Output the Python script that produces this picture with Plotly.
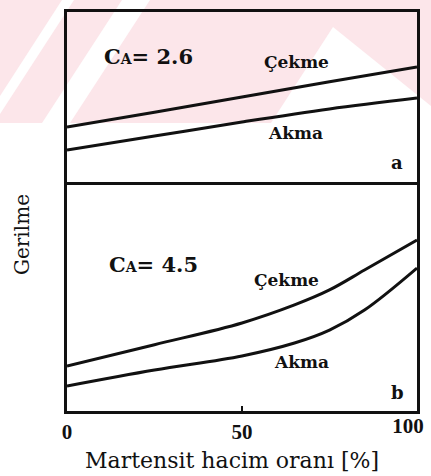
import plotly.graph_objects as go
from plotly.subplots import make_subplots

# Martensite volume fraction (%) and stress curves for the two panels
x_a = [0, 25, 50, 75, 100]
cekme_a = [3.24, 4.10, 5.00, 5.90, 6.76]
akma_a = [1.88, 2.70, 3.53, 4.30, 4.94]

x_b_cekme = [0, 25, 50, 65, 75, 85, 100]
cekme_b = [2.65, 3.90, 5.18, 6.24, 7.12, 8.29, 10.06]
x_b_akma = [0, 25, 50, 65, 75, 85, 100]
akma_b = [1.47, 2.41, 3.24, 4.00, 4.76, 5.94, 8.41]

x_ticks = [0, 50]
x_end_tick = [100]

W, H = 431, 476
ML, MR, MT, MB = 67, 14, 12, 65
PW, PH = W - ML - MR, H - MT - MB

def px(xp):
    return (xp - ML) / PW

def py(yp):
    return (H - MB - yp) / PH

fig = make_subplots(rows=2, cols=1, shared_xaxes=True,
                    vertical_spacing=0, row_heights=[170, 229])

line_style = dict(color="#111111", width=3)
fig.add_trace(go.Scatter(x=x_a, y=cekme_a, mode="lines", line=line_style,
                         line_shape="spline", showlegend=False), row=1, col=1)
fig.add_trace(go.Scatter(x=x_a, y=akma_a, mode="lines", line=line_style,
                         line_shape="spline", showlegend=False), row=1, col=1)
fig.add_trace(go.Scatter(x=x_b_cekme, y=cekme_b, mode="lines", line=line_style,
                         line_shape="spline", showlegend=False), row=2, col=1)
fig.add_trace(go.Scatter(x=x_b_akma, y=akma_b, mode="lines", line=line_style,
                         line_shape="spline", showlegend=False), row=2, col=1)

tick_font = dict(family="Liberation Serif", size=21, color="#111111", weight="bold")
axis_common = dict(showline=True, linecolor="#111111", linewidth=3,
                   showgrid=False, zeroline=False, automargin=False)
# upper x axis draws both the top edge and the divider; lower x axis only the bottom edge
fig.update_xaxes(range=[0, 100], showticklabels=False, ticks="", mirror=True,
                 **axis_common, row=1, col=1)
fig.update_xaxes(range=[0, 100], tickvals=x_ticks,
                 ticks="inside", ticklen=5, tickwidth=1.5, tickcolor="#111111",
                 mirror=False, tickfont=tick_font,
                 **axis_common, row=2, col=1)
fig.update_yaxes(range=[0, 10], showticklabels=False, ticks="", mirror=True,
                 **axis_common, row=1, col=1)
fig.update_yaxes(range=[0, 229 / 17], showticklabels=False, ticks="", mirror=True,
                 **axis_common, row=2, col=1)

# the last tick label sits against the right edge, so it gets its own overlaid axis
fig.add_trace(go.Scatter(x=x_end_tick, y=[0], xaxis="x3", yaxis="y2", mode="markers",
                         marker=dict(opacity=0), hoverinfo="skip", showlegend=False))
fig.update_layout(xaxis3=dict(overlaying="x2", anchor="y2", side="bottom",
                              range=[0, 100], tickvals=x_end_tick, ticks="",
                              showline=False, showgrid=False, zeroline=False,
                              automargin=False, ticklabelshift=-9,
                              ticklabeloverflow="allow", tickfont=tick_font))

# faint pink chevron band across the top
pink = "#fce6ea"
shapes = [
    dict(type="rect", xref="paper", yref="paper", x0=px(0), x1=px(W), y0=py(123), y1=py(0),
         fillcolor=pink, line=dict(width=0), layer="below"),
]
white_polys = [
    [(0, 96), (0, 114), (74, 0), (62, 0)],
    [(42, 123), (70, 123), (150, 0), (122, 0)],
    [(271, 123), (333, 27), (431, 106), (431, 123)],
]
for poly in white_polys:
    path = "M " + " L ".join(f"{px(a):.4f},{py(b):.4f}" for a, b in poly) + " Z"
    shapes.append(dict(type="path", xref="paper", yref="paper", path=path,
                       fillcolor="white", line=dict(width=0), layer="below"))

serif_b = dict(family="DejaVu Serif", color="#111111")

def label(text, x, y, yref, size, xanchor="center"):
    fig.add_annotation(text=text, x=x, y=y, xref="x", yref=yref, showarrow=False,
                       xanchor=xanchor, yanchor="middle",
                       font=dict(size=size, **serif_b))

label("<b>C<span style='font-size:14px'>A</span>= 2.6</b>", 10, 7.4, "y", 21, "left")
label("<b>Çekme</b>", 65.6, 7.05, "y", 17)
label("<b>Akma</b>", 65.4, 2.88, "y", 17)
label("<b>a</b>", 94.3, 1.12, "y", 18)
label("<b>C<span style='font-size:14px'>A</span>= 4.5</b>", 11.4, 8.6, "y2", 21, "left")
label("<b>Çekme</b>", 62.6, 7.7, "y2", 17)
label("<b>Akma</b>", 66.9, 2.88, "y2", 17)
label("<b>b</b>", 94.3, 1.06, "y2", 18)

fig.add_annotation(text="Martensit hacim oranı [%]", x=px(232), y=py(460),
                   xref="paper", yref="paper", showarrow=False,
                   xanchor="center", yanchor="middle",
                   font=dict(size=22, **serif_b))
fig.add_annotation(text="Gerilme", x=px(22), y=py(235), xref="paper", yref="paper",
                   showarrow=False, textangle=-90, xanchor="center", yanchor="middle",
                   font=dict(size=20, **serif_b))

fig.update_layout(width=W, height=H, margin=dict(l=ML, r=MR, t=MT, b=MB, autoexpand=False),
                  paper_bgcolor="white", plot_bgcolor="rgba(0,0,0,0)",
                  shapes=shapes, showlegend=False)

fig.write_html("out.html")
